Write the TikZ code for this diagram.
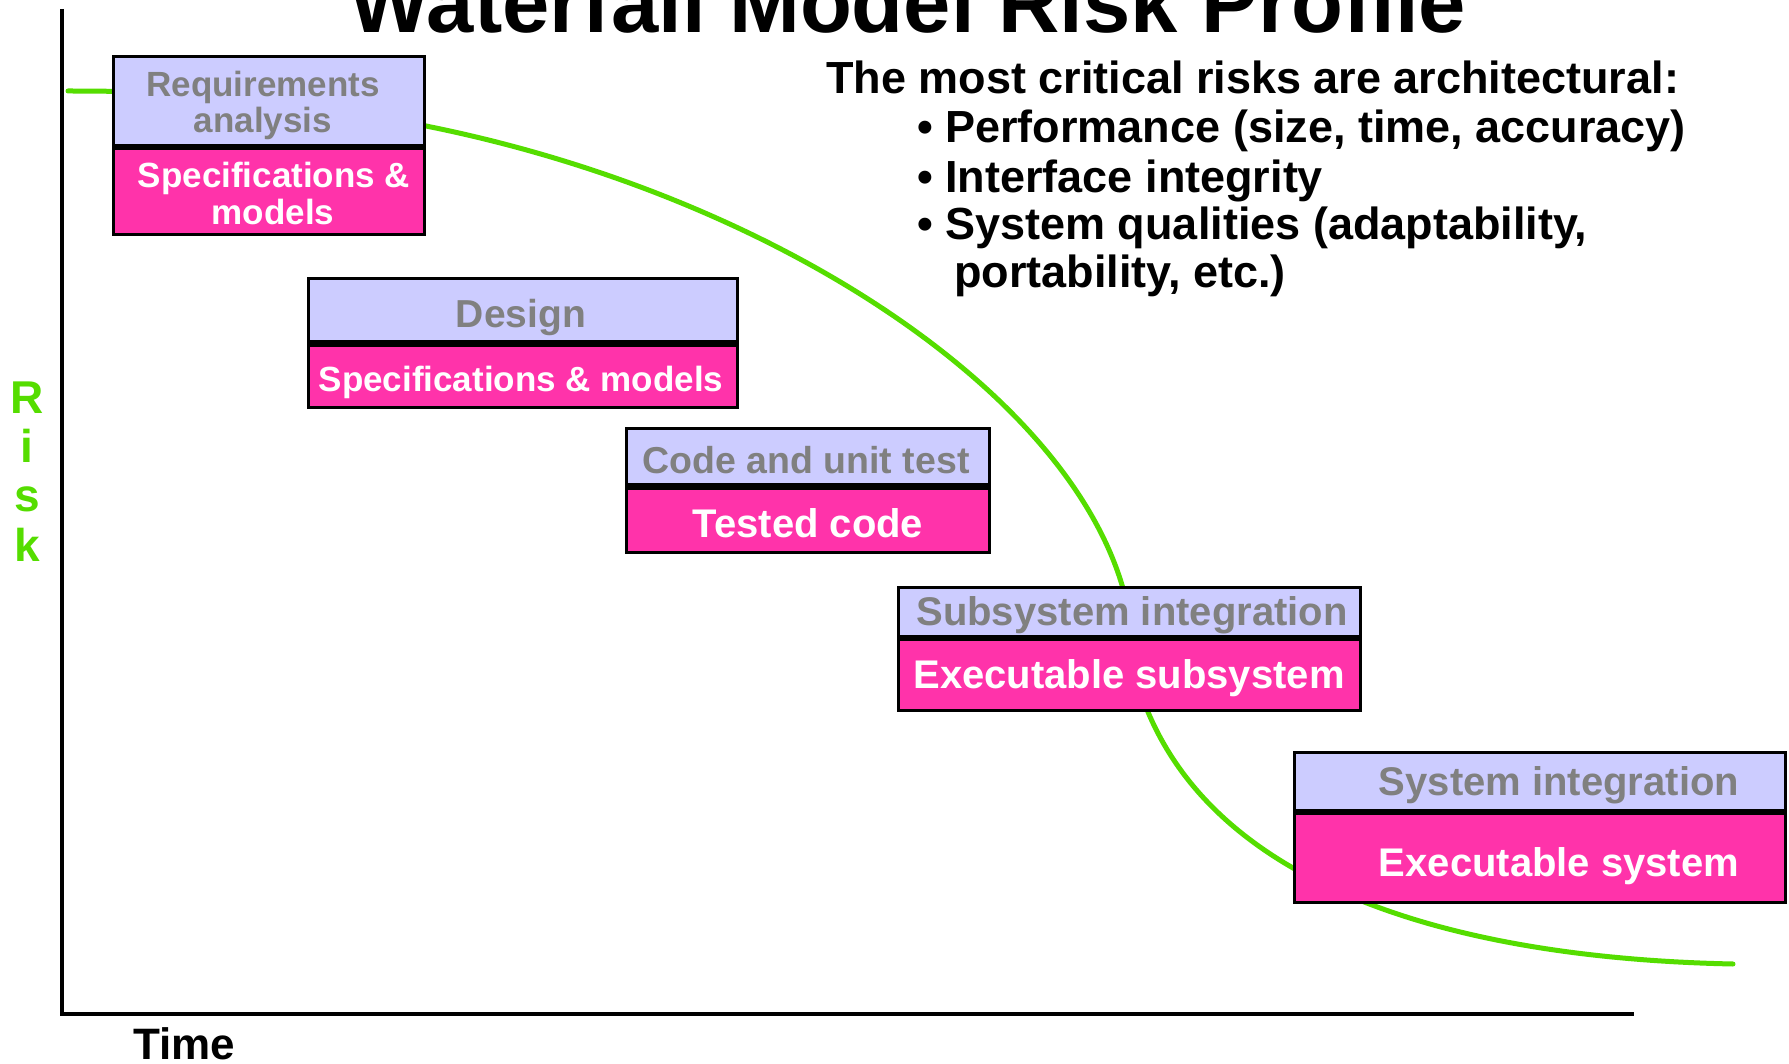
\documentclass[tikz,border=0pt]{standalone}
\usepackage{fontspec}
\setmainfont{Liberation Sans}

\definecolor{riskgreen}{RGB}{85,221,0}
\definecolor{phasefill}{RGB}{204,204,255}
\definecolor{productfill}{RGB}{255,51,170}
\definecolor{phasetext}{RGB}{128,128,128}

\tikzset{
  phasebox/.style={draw=black, line width=3.2pt, fill=phasefill, inner sep=0pt},
  productbox/.style={draw=black, line width=3.2pt, fill=productfill, inner sep=0pt},
  phasetxt/.style={text=phasetext, inner sep=0pt, anchor=base,
    font=\bfseries\fontsize{#1}{#1}\selectfont},
  producttxt/.style={text=white, inner sep=0pt, anchor=base,
    font=\bfseries\fontsize{#1}{#1}\selectfont},
  bodytxt/.style={text=black, inner sep=0pt, anchor=base west,
    font=\bfseries\fontsize{45}{45}\selectfont},
  axisline/.style={draw=black, line width=4.5pt},
  riskcurve/.style={draw=riskgreen, line width=5pt, line cap=round},
  risktxt/.style={text=riskgreen, inner sep=0pt, anchor=base,
    font=\bfseries\fontsize{46}{46}\selectfont},
}

\begin{document}
\begin{tikzpicture}[x=1pt,y=-1pt]
\useasboundingbox (0,0) rectangle (1789,1064);
\clip (0,0) rectangle (1789,1064);
\fill[white] (0,0) rectangle (1789,1064);

% axes
\coordinate (ytop) at (62,9);
\coordinate (origin) at (62,1014);
\coordinate (xend) at (1634,1014);
\draw[axisline] (ytop) -- (origin) -- (xend);

% risk profile curve, drawn beneath the phase boxes
\coordinate (c0) at (68,91);
\coordinate (c1) at (426,126);
\coordinate (c2) at (1122,585);
\coordinate (c3) at (1148,712);
\coordinate (c4) at (1733,964);
\draw[riskcurve] (c0) .. controls (250,91) and (330,107) .. (c1)
  .. controls (770.5,195) and (1062.8,387.8) .. (c2)
  .. controls (1134,625) and (1132,672) .. (c3)
  .. controls (1224.5,893.5) and (1467,958.5) .. (c4);

% title and notes
\node[inner sep=0pt, anchor=base, font=\bfseries\fontsize{85}{85}\selectfont]
  (title) at (908,33) {Waterfall Model Risk Profile};
\node[bodytxt] (note) at (826,94) {The most critical risks are architectural:};
\node[bodytxt] (risk1) at (917,143) {• Performance (size, time, accuracy)};
\node[bodytxt] (risk2) at (917,193) {• Interface integrity};
\node[bodytxt] (risk3) at (917,240) {• System qualities (adaptability,};
\node[bodytxt] (risk3b) at (954,288) {portability, etc.)};

% axis labels
\node[risktxt] (rR) at (27,414) {R};
\node[risktxt] (rI) at (27,462) {i};
\node[risktxt] (rS) at (27,511) {s};
\node[risktxt] (rK) at (27,561) {k};
\node[inner sep=0pt, anchor=base, font=\bfseries\fontsize{44}{44}\selectfont]
  (time) at (184,1059) {Time};

% phase 1
\node[phasebox, minimum width=310.8pt, minimum height=88.8pt] (req) at (269,101) {};
\node[productbox, minimum width=310.8pt, minimum height=85.8pt] (reqout) at (269,191.5) {};
\node[phasetxt=35] (reqA) at (263,97) {Requirements};
\node[phasetxt=35] (reqB) at (263,133) {analysis};
\node[producttxt=35] (reqoutA) at (274,188) {Specifications \&};
\node[producttxt=35] (reqoutB) at (273,225) {models};

% phase 2
\node[phasebox, minimum width=428.8pt, minimum height=63.3pt] (des) at (523,310.25) {};
\node[productbox, minimum width=428.8pt, minimum height=62.3pt] (desout) at (523,376.25) {};
\node[phasetxt=39] (desA) at (521,328) {Design};
\node[producttxt=35] (desoutA) at (521,392) {Specifications \& models};

% phase 3
\node[phasebox, minimum width=362.8pt, minimum height=56.3pt] (code) at (808,456.75) {};
\node[productbox, minimum width=362.8pt, minimum height=64.3pt] (codeout) at (808,520.25) {};
\node[phasetxt=37.5] (codeA) at (806,473) {Code and unit test};
\node[producttxt=40] (codeoutA) at (808,537) {Tested code};

% phase 4
\node[phasebox, minimum width=461.8pt, minimum height=48.8pt] (sub) at (1129.5,612) {};
\node[productbox, minimum width=461.8pt, minimum height=70.8pt] (subout) at (1129.5,675) {};
\node[phasetxt=40] (subA) at (1132,625) {Subsystem integration};
\node[producttxt=40] (suboutA) at (1129,688) {Executable subsystem};

% phase 5
\node[phasebox, minimum width=490.8pt, minimum height=57.8pt] (sys) at (1540,781.5) {};
\node[productbox, minimum width=490.8pt, minimum height=88.8pt] (sysout) at (1540,858) {};
\node[phasetxt=40] (sysA) at (1559,795) {System integration};
\node[producttxt=40] (sysoutA) at (1559,876) {Executable system};
\end{tikzpicture}
\end{document}
